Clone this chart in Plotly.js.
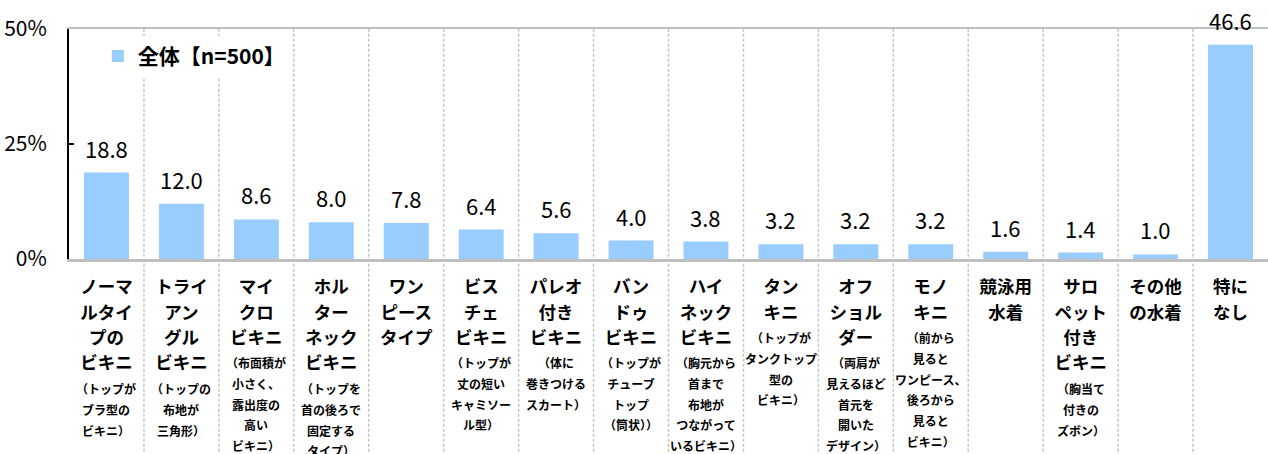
<!DOCTYPE html>
<html><head><meta charset="utf-8">
<script src="https://cdn.plot.ly/plotly-3.0.1.min.js"></script>
<style>html,body{margin:0;padding:0;background:#fff}</style>
</head><body><div id="chart" style="width:1268px;height:454px"></div>
<script>
// Category names (main label lines)
const categoryLines = [
  ['ノーマ','ルタイ','プの','ビキニ'],
  ['トライ','アン','グル','ビキニ'],
  ['マイ','クロ','ビキニ'],
  ['ホル','ター','ネック','ビキニ'],
  ['ワン','ピース','タイプ'],
  ['ビス','チェ','ビキニ'],
  ['パレオ','付き','ビキニ'],
  ['バン','ドゥ','ビキニ'],
  ['ハイ','ネック','ビキニ'],
  ['タン','キニ'],
  ['オフ','ショル','ダー'],
  ['モノ','キニ'],
  ['競泳用','水着'],
  ['サロ','ペット','付き','ビキニ'],
  ['その他','の水着'],
  ['特に','なし']
];
// Explanatory notes under the category names
const noteLines = [
  ['（トップが','ブラ型の','ビキニ）'],
  ['（トップの','布地が','三角形）'],
  ['（布面積が','小さく、','露出度の','高い','ビキニ）'],
  ['（トップを','首の後ろで','固定する','タイプ）'],
  [],
  ['（トップが','丈の短い','キャミソー','ル型）'],
  ['（体に','巻きつける','スカート）'],
  ['（トップが','チューブ','トップ','（筒状））'],
  ['（胸元から','首まで','布地が','つながって','いるビキニ）'],
  ['（トップが','タンクトップ','型の','ビキニ）'],
  ['（両肩が','見えるほど','首元を','開いた','デザイン）'],
  ['（前から','見ると','ワンピース、','後ろから','見ると','ビキニ）'],
  [],
  ['（胸当て','付きの','ズボン）'],
  [],
  []
];
// Series values (%)
const values = [18.8, 12.0, 8.6, 8.0, 7.8, 6.4, 5.6, 4.0, 3.8, 3.2, 3.2, 3.2, 1.6, 1.4, 1.0, 46.6];
const seriesName = '全体【n=500】';
const yTickVals = [0, 25, 50];
const yTickText = ['0%', '25%', '50%'];

const categories = categoryLines.map(l => l.join(''));
const tickText = categoryLines.map(l =>
  l.map(t => '<span style="font-size:17.5px">' + t + '</span>').join('<br>'));

const FONT = '"Noto Sans CJK JP", "Noto Sans", sans-serif';

const trace = {
  type: 'bar',
  x: categories,
  y: values,
  name: seriesName,
  marker: {color: '#99CCFF'},
  width: 0.6,
  showlegend: true,
  hoverinfo: 'none'
};

const annotations = values.map((v, i) => ({
  x: categories[i], y: v, xref: 'x', yref: 'y',
  text: v.toFixed(1), showarrow: false,
  yanchor: 'bottom', yshift: 7,
  font: {family: FONT, size: 22, color: '#000'}
}));

// Notes below the category names (label layout)
const PLOT_H = 230;
noteLines.forEach((lines, i) => {
  if (!lines.length) return;
  const k = categoryLines[i].length;
  annotations.push({
    x: categories[i], xref: 'x', yref: 'paper',
    y: -(17.5 + 25.5 * k) / PLOT_H, yanchor: 'top', xanchor: 'center',
    text: lines.map(t => '<span style="font-size:12px">' + t + '</span>').join('<br>'),
    showarrow: false, align: 'center', borderpad: 0,
    font: {family: FONT, size: 16, weight: 'bold', color: '#000'}
  });
});

const n = categories.length;
const shapes = [];
for (let i = 1; i < n; i++) {
  shapes.push({
    type: 'line', xref: 'paper', yref: 'paper',
    x0: i / n, x1: i / n, y0: -0.86, y1: 1,
    line: {color: '#c4c4c4', width: 1.5, dash: '3px,2px'},
    layer: 'below'
  });
}

const layout = {
  width: 1268, height: 454,
  margin: {l: 69, r: 0, t: 29, b: 195},
  paper_bgcolor: '#fff', plot_bgcolor: '#fff',
  bargap: 0.4,
  font: {family: FONT, color: '#000'},
  xaxis: {
    type: 'category',
    tickvals: categories, ticktext: tickText,
    tickangle: 0,
    tickfont: {family: FONT, size: 19.6, weight: 'bold', color: '#000'},
    showline: true, linecolor: '#bfbfbf', linewidth: 2.5, mirror: true,
    ticks: '', showgrid: false, zeroline: false,
    ticklabelstandoff: 8,
    range: [-0.5, n - 0.5]
  },
  yaxis: {
    range: [0, 50],
    tickvals: yTickVals, ticktext: yTickText,
    tickfont: {family: FONT, size: 21, color: '#000'},
    ticks: 'inside', ticklen: 5, tickwidth: 1.5, tickcolor: '#000',
    showline: true, linecolor: '#000', linewidth: 2,
    showgrid: false, zeroline: false,
    ticklabelstandoff: 16
  },
  legend: {
    x: 0.024, y: 0.97, xanchor: 'left', yanchor: 'top',
    bgcolor: '#ffffff',
    font: {family: FONT, size: 21, weight: 'bold', color: '#000'}
  },
  showlegend: true,
  annotations: annotations,
  shapes: shapes
};

Plotly.newPlot('chart', [trace], layout, {displayModeBar: false, staticPlot: true});
</script>
</body></html>
